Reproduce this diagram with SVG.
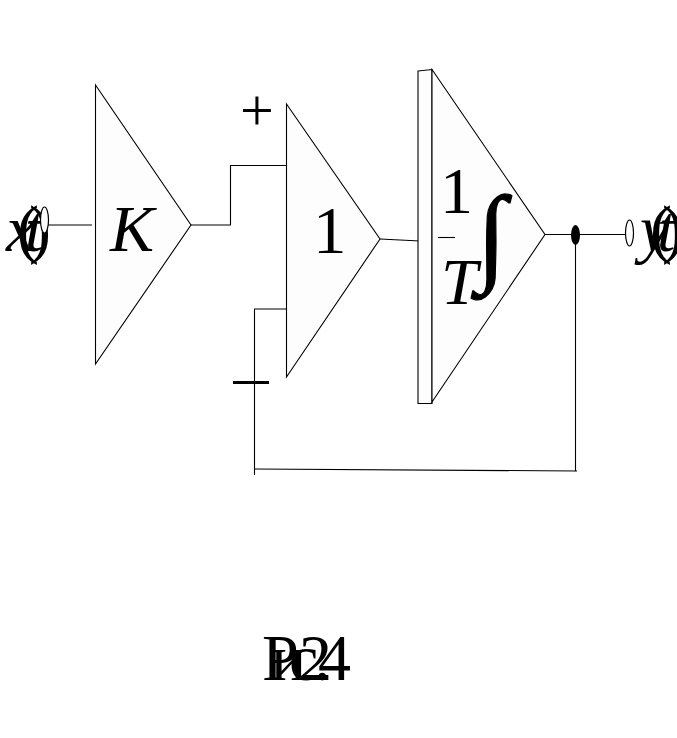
<svg xmlns="http://www.w3.org/2000/svg" width="677" height="738" viewBox="0 0 677 738">
<style>
.s{fill:#fdfdfd;stroke:#000;stroke-width:1.1}
.l{fill:none;stroke:#000;stroke-width:1.1}
.w{fill:#fff;stroke:#000;stroke-width:1.2}
text{font-family:"Liberation Serif","Times New Roman",serif;fill:#000}
.i{font-style:italic}
</style>
<rect width="677" height="738" fill="#fff"/>
<g id="connectors">
<path class="l" d="M47 225H92"/>
<path class="l" d="M191 225H230.500V165.500H287"/>
<path class="l" d="M287 309H254.500V475"/>
<path class="l" d="M380 239L420 241"/>
<path class="l" d="M545 234.500H625"/>
<path class="l" d="M575.500 235V471"/>
<path class="l" d="M254 469L577 471"/>
</g>
<g id="node-k"><path class="s" d="M95.500 85L191 225L95.500 364Z"/><text class="i" x="110" y="251" font-size="66">K</text></g>
<g id="node-1"><path class="s" d="M286.500 104L380 239L286.500 377Z"/><text x="313" y="253" font-size="67">1</text></g>
<g id="node-int"><path class="s" d="M418 71L432 69.500V403.500H418Z"/><path class="s" d="M432 69.500L545 234.500L432 402Z"/>
<text x="440" y="213" font-size="66">1</text><path class="l" d="M438 237.500H455" stroke-width="0.8"/><text class="i" x="441" y="304" font-size="66">T</text><text x="477" y="271" font-size="108" font-family="DejaVu Serif" stroke="#000" stroke-width="1.2">∫</text></g>
<g id="input-label"><text class="i" x="6" y="251" font-size="66">x</text><text x="17" y="251" font-size="66">(</text><text class="i" x="25" y="251" font-size="66">t</text><text x="29" y="251" font-size="66">)</text></g>
<g id="output-label"><text class="i" x="640" y="251" font-size="66">y</text><text x="650" y="251" font-size="66">(</text><text class="i" x="657" y="251" font-size="66">t</text><text x="662" y="251" font-size="66">)</text></g>
<g id="in-terminal"><ellipse class="w" cx="44.500" cy="220" rx="4" ry="13"/></g>
<g id="out-terminal"><ellipse class="w" cx="629.500" cy="233" rx="4" ry="13"/></g>
<g id="junction"><ellipse cx="575.500" cy="235" rx="4.500" ry="10" fill="#000"/></g>
<g id="signs"><text x="240" y="130" font-size="60">+</text><path d="M233 382.500H269" stroke="#000" stroke-width="3"/></g>
<g id="caption"><text x="262" y="680" font-size="66">Р</text><text x="271" y="680" font-size="66">и</text><text x="289" y="680" font-size="66">с</text><text x="299" y="680" font-size="66">2</text><text x="314" y="680" font-size="66">.</text><text x="318" y="680" font-size="66">4</text></g>
</svg>
